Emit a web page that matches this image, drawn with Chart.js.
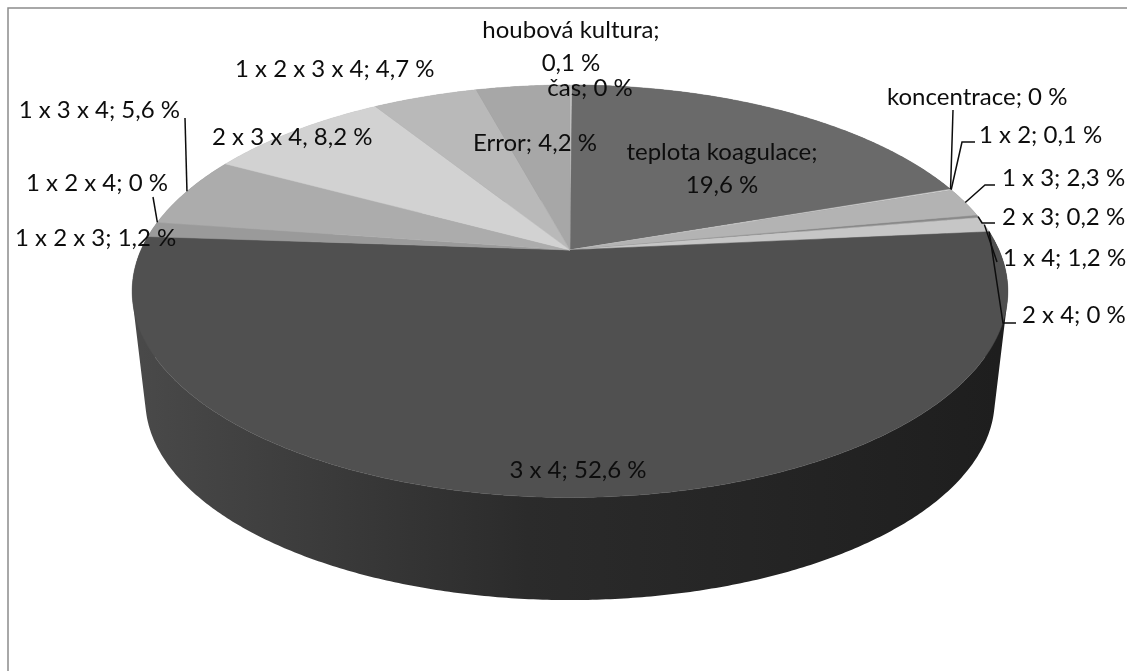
<!DOCTYPE html>
<html>
<head>
<meta charset="utf-8">
<script src="https://cdn.jsdelivr.net/npm/chart.js@4/dist/chart.umd.min.js"></script>
<style>
  html, body { margin: 0; padding: 0; background: #ffffff; }
  #wrap { position: relative; width: 1127px; height: 671px; }
</style>
</head>
<body>
<div id="wrap"><canvas id="chart"></canvas></div>
<script>
// Share of each effect (%), in slice order, clockwise from 12 o'clock
const categories = ['houbová kultura', 'čas', 'teplota koagulace', 'koncentrace',
  '1 x 2', '1 x 3', '2 x 3', '1 x 4', '2 x 4', '3 x 4',
  '1 x 2 x 3', '1 x 2 x 4', '1 x 3 x 4', '2 x 3 x 4', '1 x 2 x 3 x 4', 'Error'];
const shares = [0.1, 0, 19.6, 0, 0.1, 2.3, 0.2, 1.2, 0, 52.6, 1.2, 0, 5.6, 8.2, 4.7, 4.2];
const sliceColors = ['#c8c8c8', '#a0a0a0', '#6a6a6a', '#8a8a8a', '#d4d4d4', '#b3b3b3',
  '#8a8a8a', '#c6c6c6', '#a0a0a0', '#505050', '#9a9a9a', '#a0a0a0', '#acacac',
  '#d2d2d2', '#b9b9b9', '#a7a7a7'];

// Label placement: text anchor, alignment, separator, line wrap and leader-line bends
const labelLayout = [
  { x: 571, y: 30, align: 'center', wrap: true, lineGap: 33 },
  { x: 590, y: 88, align: 'center' },
  { x: 722, y: 152, align: 'center', wrap: true, lineGap: 33 },
  { x: 887, y: 97, align: 'left', leader: [[953, 110]] },
  { x: 979, y: 135, align: 'left', leader: [[975, 142], [962, 142]] },
  { x: 1002, y: 178, align: 'left', leader: [[995, 185], [985, 185]] },
  { x: 1002, y: 217, align: 'left', leader: [[995, 223], [982, 223]] },
  { x: 1003, y: 258, align: 'left', leader: [[997, 262]] },
  { x: 1022, y: 315, align: 'left', leader: [[1016, 323], [1003, 323]] },
  { x: 578, y: 470, align: 'center' },
  { x: 15, y: 238, align: 'left' },
  { x: 97, y: 183, align: 'center', leader: [[153, 197]] },
  { x: 180, y: 110, align: 'right', leader: [[185, 118]] },
  { x: 212, y: 137, align: 'left', sep: ', ' },
  { x: 235, y: 69, align: 'left' },
  { x: 473, y: 143, align: 'left' }
];

const LABEL_FONT = '24px Lato';

// Tilted-disc geometry, as multiples of the pie radius Chart.js computes:
// top face in perspective, bottom face slightly smaller and lowered
const tilt = { rx: 1.716, ry: 0.792, persp: 0.2, bottomScale: 0.97, drop: 0.44 };

function project(arc, ang, lowered) {
  const X = Math.cos(ang), Y = Math.sin(ang);
  const w = 1 - tilt.persp * Y;
  const r = arc.outerRadius;
  let dx = r * tilt.rx * X / w, dy = r * tilt.ry * Y / w;
  if (lowered) {
    dx *= tilt.bottomScale;
    dy = dy * tilt.bottomScale + r * tilt.drop;
  }
  return [arc.x + dx, arc.y + dy];
}

function shade(hex, f) {
  const v = parseInt(hex.slice(1, 3), 16);
  const s = Math.round(v * f).toString(16).padStart(2, '0');
  return '#' + s + s + s;
}

function sampleAngles(a0, a1) {
  const n = Math.max(2, Math.ceil((a1 - a0) / (Math.PI / 360)));
  const out = [];
  for (let i = 0; i <= n; i++) out.push(a0 + (a1 - a0) * i / n);
  return out;
}

const discPlugin = {
  id: 'disc3d',
  beforeDraw(chart) {
    const ctx = chart.ctx;
    ctx.save();
    ctx.fillStyle = '#ffffff';
    ctx.fillRect(0, 0, chart.width, chart.height);
    ctx.strokeStyle = '#8c8c8c';
    ctx.lineWidth = 1.5;
    ctx.strokeRect(8, 8, 1400, 900);
    ctx.restore();
  },
  beforeDatasetsDraw(chart) {
    const ctx = chart.ctx;
    const arcs = chart.getDatasetMeta(0).data;
    const order = arcs.map((a, i) => i)
      .filter(i => arcs[i].endAngle - arcs[i].startAngle > 1e-6)
      .sort((i, j) => Math.sin((arcs[i].startAngle + arcs[i].endAngle) / 2) -
                      Math.sin((arcs[j].startAngle + arcs[j].endAngle) / 2));
    ctx.save();
    // outer walls, back to front: one path of consistently wound strips per slice
    order.forEach(i => {
      const a = arcs[i];
      let fill = shade(sliceColors[i], 0.82);
      if (shares[i] > 50) {
        const L = project(a, Math.PI, false)[0], R = project(a, 0, false)[0];
        const g = ctx.createLinearGradient(L, 0, R, 0);
        g.addColorStop(0, '#494949');
        g.addColorStop(0.15, '#3f3f3f');
        g.addColorStop(0.45, '#2b2b2b');
        g.addColorStop(0.75, '#242424');
        g.addColorStop(1, '#1e1e1e');
        fill = g;
      }
      const angs = sampleAngles(a.startAngle, a.endAngle);
      ctx.beginPath();
      for (let k = 0; k < angs.length - 1; k++) {
        let q = [project(a, angs[k], false), project(a, angs[k + 1], false),
                 project(a, angs[k + 1], true), project(a, angs[k], true)];
        let area = 0;
        for (let m = 0; m < 4; m++) {
          const p = q[m], n = q[(m + 1) % 4];
          area += p[0] * n[1] - n[0] * p[1];
        }
        if (area < 0) q = q.reverse();
        ctx.moveTo(q[0][0], q[0][1]);
        for (let m = 1; m < 4; m++) ctx.lineTo(q[m][0], q[m][1]);
        ctx.closePath();
      }
      ctx.fillStyle = fill;
      ctx.fill('nonzero');
    });
    // top faces
    arcs.forEach((a, i) => {
      if (a.endAngle - a.startAngle <= 1e-6) return;
      ctx.beginPath();
      ctx.moveTo(a.x, a.y);
      sampleAngles(a.startAngle, a.endAngle).forEach(t => {
        const p = project(a, t, false);
        ctx.lineTo(p[0], p[1]);
      });
      ctx.closePath();
      ctx.fillStyle = sliceColors[i];
      ctx.strokeStyle = sliceColors[i];
      ctx.lineWidth = 0.5;
      ctx.fill();
      ctx.stroke();
    });
    ctx.restore();
    return false;
  },
  afterDraw(chart) {
    const ctx = chart.ctx;
    const arcs = chart.getDatasetMeta(0).data;
    ctx.save();
    ctx.font = LABEL_FONT;
    ctx.fillStyle = '#0d0d0d';
    ctx.textBaseline = 'middle';
    ctx.strokeStyle = '#0d0d0d';
    ctx.lineWidth = 1.5;
    labelLayout.forEach((L, i) => {
      const a = arcs[i];
      if (L.leader) {
        const edge = project(a, (a.startAngle + a.endAngle) / 2, false);
        ctx.beginPath();
        L.leader.forEach((p, k) => k ? ctx.lineTo(p[0], p[1]) : ctx.moveTo(p[0], p[1]));
        ctx.lineTo(edge[0], edge[1]);
        ctx.stroke();
      }
      const value = String(shares[i]).replace('.', ',') + ' %';
      const sep = L.sep || '; ';
      ctx.textAlign = L.align;
      if (L.wrap) {
        ctx.fillText(categories[i] + sep.trim(), L.x, L.y);
        ctx.fillText(value, L.x, L.y + L.lineGap);
      } else {
        ctx.fillText(categories[i] + sep + value, L.x, L.y);
      }
    });
    ctx.restore();
  }
};

new Chart(document.getElementById('chart'), {
  type: 'pie',
  data: {
    labels: categories,
    datasets: [{ data: shares, backgroundColor: sliceColors, borderWidth: 0 }]
  },
  options: {
    responsive: true,
    maintainAspectRatio: false,
    devicePixelRatio: 1,
    animation: false,
    events: [],
    layout: { padding: { left: 13, right: 0, top: 0, bottom: 171 } },
    plugins: { legend: { display: false }, tooltip: { enabled: false } }
  },
  plugins: [discPlugin]
});
</script>
</body>
</html>
